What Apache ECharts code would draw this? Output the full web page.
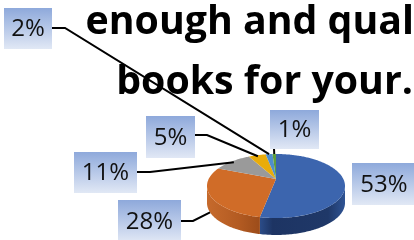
<!DOCTYPE html>
<html>
<head>
<meta charset="utf-8">
<script src="https://cdn.jsdelivr.net/npm/echarts@6/dist/echarts.min.js"></script>
<style>
  html, body { margin: 0; padding: 0; background: #fff; }
  #main { width: 414px; height: 240px; }
</style>
</head>
<body>
<div id="main"></div>
<script>
// slice values (percent) and their labels, clockwise from 12 o'clock
var values = [53, 28, 11, 5, 2, 1];
var labels = ['53%', '28%', '11%', '5%', '2%', '1%'];
var titleLines = ['enough and qual', 'books for your.'];

var topColors = ['#3C65AE', '#D06C28', '#9A9A9A', '#E9AC0A', '#4F8ECB', '#5F9E3D'];
var sideColors = [
    [[0, '#2B4C88'], [0.15, '#1D3463'], [0.8, '#1F3868'], [1, '#2E5394']],
    [[0, '#C66A2C'], [0.6, '#B35B22'], [1, '#9C4C1A']],
    [[0, '#7a7a7a'], [1, '#6a6a6a']],
    [[0, '#b88a08'], [1, '#a57b06']],
    [[0, '#3c6f9f'], [1, '#35638f']],
    [[0, '#4a7c30'], [1, '#426f2a']]
];

// label boxes placed by hand, like the dragged labels of the original
var labelLayout = [
    { box: [352, 163, 64, 42], line: null },
    { box: [118, 200, 63, 42], line: [[181, 221], [193, 221]], r: 1, drop: 1 },
    { box: [74, 152, 63, 41], line: [[137, 172], [150, 172]], r: 0.95, drop: 0 },
    { box: [146, 116, 49, 42], line: [[195, 135], [207, 135]], r: 0.95, drop: 0 },
    { box: [4, 8, 48, 41], line: [[52, 28], [65, 28]], r: 1, drop: 0 },
    { box: [270, 110, 49, 39], line: [[274, 149]], r: 1, drop: 0 }
];

var total = 0;
var starts = [];
values.forEach(function (v) { starts.push(total); total += v; });

var P = 0.22;        // perspective shift of the pie centre
var DEPTH = 0.53;    // thickness, in y units
var FRONT0 = Math.acos(-P) * 180 / Math.PI;
var FRONT1 = 360 - FRONT0;

function proj(api, deg, r, drop) {
    var th = deg * Math.PI / 180;
    var x = r * Math.sin(th), y = r * Math.cos(th);
    var k = 1 + P * y;
    return api.coord([x * Math.sqrt(1 - P * P) / k, (y + P) / k - drop * DEPTH]);
}

function arc(api, a0, a1, drop) {
    var pts = [];
    for (var t = a0; t < a1; t += 1) pts.push(proj(api, t, 1, drop));
    pts.push(proj(api, a1, 1, drop));
    return pts;
}

function renderSlice(params, api) {
    var i = params.dataIndex;
    var a0 = starts[i] / total * 360;
    var a1 = (starts[i] + api.value(1)) / total * 360;
    var children = [];
    var s0 = Math.max(a0, FRONT0), s1 = Math.min(a1, FRONT1);
    if (s1 > s0) {
        var side = arc(api, s0, s1, 0).concat(arc(api, s0, s1, 1).reverse());
        children.push({
            type: 'polygon',
            shape: { points: side },
            style: { fill: new echarts.graphic.LinearGradient(0, 0, 1, 0, sideColors[i].map(function (s) {
                return { offset: s[0], color: s[1] };
            })) }
        });
    }
    children.push({
        type: 'polygon',
        shape: { points: [proj(api, 0, 0, 0)].concat(arc(api, a0, a1, 0)) },
        style: { fill: topColors[i] }
    });
    return { type: 'group', children: children };
}

function renderLabel(params, api) {
    var i = params.dataIndex;
    var lay = labelLayout[i];
    var b = lay.box;
    var children = [];
    if (lay.line) {
        var mid = (starts[i] + api.value(1) / 2) / total * 360;
        var pts = lay.line.concat([proj(api, mid, lay.r, lay.drop)]);
        children.push({
            type: 'polyline',
            shape: { points: pts },
            style: { stroke: '#000', lineWidth: 2, fill: null }
        });
    }
    children.push({
        type: 'rect',
        shape: { x: b[0], y: b[1], width: b[2], height: b[3] },
        style: { fill: new echarts.graphic.LinearGradient(0, 0, 0, 1, [
            { offset: 0, color: '#8EA9DB' }, { offset: 1, color: '#E1E8F5' }
        ]) }
    });
    children.push({
        type: 'text',
        style: {
            text: labels[i],
            x: b[0] + b[2] / 2,
            y: b[1] + b[3] / 2 + 1,
            align: 'center',
            verticalAlign: 'middle',
            fontFamily: 'Open Sans',
            fontSize: 24,
            fill: '#111'
        }
    });
    return { type: 'group', children: children };
}

var chart = echarts.init(document.getElementById('main'));
var pieData = values.map(function (v, i) { return [i, v]; });

chart.setOption({
    animation: false,
    grid: { left: 207, top: 154, width: 138, height: 64 },
    xAxis: { type: 'value', min: -1, max: 1, show: false },
    yAxis: { type: 'value', min: -1, max: 1, show: false },
    graphic: titleLines.map(function (t, i) {
        return {
            type: 'text',
            z: 0,
            style: {
                text: t,
                x: 414 - i,
                y: 23 + i * 60,
                align: 'right',
                verticalAlign: 'middle',
                fontFamily: 'Open Sans',
                fontWeight: 'bold',
                fontSize: 39.3,
                fill: '#000'
            }
        };
    }),
    series: [
        {
            type: 'custom',
            renderItem: renderSlice,
            data: pieData,
            z: 2,
            silent: true
        },
        {
            type: 'custom',
            renderItem: renderLabel,
            data: pieData,
            z: 5,
            silent: true
        }
    ]
});
</script>
</body>
</html>
